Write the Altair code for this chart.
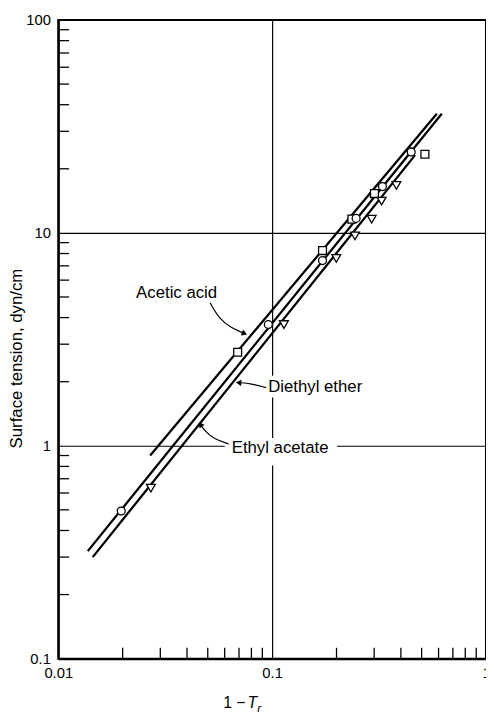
import altair as alt
import pandas as pd

# ---- data (1 - Tr, surface tension dyn/cm) ----
acetic_x = [0.069, 0.172, 0.236, 0.301, 0.518]
acetic_y = [2.75, 8.26, 11.6, 15.3, 23.4]
ethylac_x = [0.0197, 0.096, 0.172, 0.247, 0.328, 0.447]
ethylac_y = [0.494, 3.71, 7.41, 11.7, 16.5, 24.0]
ether_x = [0.0271, 0.1135, 0.1995, 0.244, 0.292, 0.325, 0.381]
ether_y = [0.632, 3.71, 7.59, 9.68, 11.6, 14.1, 16.7]

line_series = ["Acetic acid", "Acetic acid", "Ethyl acetate", "Ethyl acetate",
               "Diethyl ether", "Diethyl ether"]
line_x = [0.0269, 0.589, 0.01374, 0.621, 0.01449, 0.466]
line_y = [0.90, 36.3, 0.320, 36.3, 0.300, 23.2]

x_major = [0.01, 0.1, 1]
y_major = [0.1, 1, 10, 100]
x_minor = [0.02, 0.03, 0.04, 0.05, 0.06, 0.07, 0.08, 0.09,
           0.2, 0.3, 0.4, 0.5, 0.6, 0.7, 0.8, 0.9]
y_minor = [0.2, 0.3, 0.4, 0.5, 0.6, 0.7, 0.8, 0.9,
           2, 3, 4, 5, 6, 7, 8, 9,
           20, 30, 40, 50, 60, 70, 80, 90]

label_texts = ["Acetic acid", "Diethyl ether", "Ethyl acetate"]

# annotation arrows (data coordinates)
arrow_id = ["a", "a", "a", "a", "b", "b", "b", "c", "c", "c", "c"]
arrow_k = [0, 1, 2, 3, 0, 1, 2, 0, 1, 2, 3]
arrow_x = [0.0513, 0.0564, 0.0647, 0.0743, 0.0938, 0.0800, 0.0697,
           0.0627, 0.0534, 0.0486, 0.0462]
arrow_y = [4.69, 3.96, 3.56, 3.37, 1.875, 1.96, 1.98,
           1.02, 1.077, 1.17, 1.26]
head_x = [0.0743, 0.0697, 0.0462]
head_y = [3.37, 1.98, 1.26]
head_angle = [21, 184, 234]

FONT = "Liberation Sans"
W, H = 434, 648

xs = alt.Scale(type="log", domain=[0.01, 1], nice=False)
ys = alt.Scale(type="log", domain=[0.1, 100], nice=False)

x_axis = alt.Axis(values=x_major, format="~g", title=None, grid=True,
                  gridColor="black", gridWidth=1.2, gridOpacity=1,
                  ticks=False, domain=True, domainColor="black", domainWidth=2,
                  labelFont=FONT, labelFontSize=15, labelColor="black",
                  labelPadding=7, labelFlush=False, labelOverlap=False,
                  labelBound=False, zindex=0)
y_axis = alt.Axis(values=y_major, format="~g", title="Surface tension, dyn/cm",
                  grid=True, gridColor="black", gridWidth=1.2, gridOpacity=1,
                  ticks=False, domain=True, domainColor="black", domainWidth=2,
                  labelFont=FONT, labelFontSize=15, labelColor="black",
                  labelPadding=8, labelFlush=False, labelOverlap=False,
                  labelBound=False,
                  titleFont=FONT, titleFontSize=17, titleFontWeight="normal",
                  titleColor="black", titleAngle=270, titleX=-42, titleY=343,
                  titleAlign="center", titleBaseline="middle", zindex=0)

x_enc = alt.X("x:Q", scale=xs, axis=x_axis)
y_enc = alt.Y("y:Q", scale=ys, axis=y_axis)

one = pd.DataFrame({"d": [0]})

# minor ticks (inside)
xmin_df = pd.DataFrame({"x": x_minor})
ymin_df = pd.DataFrame({"y": y_minor})
xticks = alt.Chart(xmin_df).mark_rule(color="black", strokeWidth=1.3).encode(
    x=x_enc, y=alt.value(H), y2=alt.value(H - 11))
yticks = alt.Chart(ymin_df).mark_rule(color="black", strokeWidth=1.3).encode(
    y=y_enc, x=alt.value(0), x2=alt.value(11))

# white backgrounds behind labels (interrupt grid lines)
bg1 = alt.Chart(one).mark_rect(fill="white").encode(
    x=alt.value(209), x2=alt.value(310), y=alt.value(361), y2=alt.value(383))
bg2 = alt.Chart(one).mark_rect(fill="white").encode(
    x=alt.value(169), x2=alt.value(283), y=alt.value(424), y2=alt.value(452))

lines_df = pd.DataFrame({"series": line_series, "x": line_x, "y": line_y})
lines = alt.Chart(lines_df).mark_line(color="black", strokeWidth=2.3).encode(
    x=x_enc, y=y_enc, detail="series:N")

arrows_df = pd.DataFrame({"id": arrow_id, "k": arrow_k, "x": arrow_x, "y": arrow_y})
arrows = alt.Chart(arrows_df).mark_line(color="black", strokeWidth=1.2,
                                        interpolate="basis").encode(
    x=x_enc, y=y_enc, detail="id:N", order="k:Q")
heads_df = pd.DataFrame({"x": head_x, "y": head_y, "ang": head_angle})
heads = alt.Chart(heads_df).mark_point(shape="triangle-right", filled=True,
                                       color="black", size=40, opacity=1).encode(
    x=x_enc, y=y_enc, angle=alt.Angle("ang:Q", scale=None))

pt_style = dict(filled=True, fill="white", stroke="black", strokeWidth=1.3, opacity=1)
sq = alt.Chart(pd.DataFrame({"x": acetic_x, "y": acetic_y})).mark_point(
    shape="square", size=64, **pt_style).encode(x=x_enc, y=y_enc)
ci = alt.Chart(pd.DataFrame({"x": ethylac_x, "y": ethylac_y})).mark_point(
    shape="circle", size=64, **pt_style).encode(x=x_enc, y=y_enc)
tr = alt.Chart(pd.DataFrame({"x": ether_x, "y": ether_y})).mark_point(
    shape="triangle-down", size=80, **pt_style).encode(x=x_enc, y=y_enc)

def label(text, px, py, size=17, align="left", baseline="middle", style="normal"):
    return alt.Chart(one).mark_text(font=FONT, fontSize=size, align=align,
                                    baseline=baseline, fontStyle=style,
                                    color="black").encode(
        x=alt.value(px), y=alt.value(py), text=alt.value(text))

t1 = label(label_texts[0], 79, 277)
t2 = label(label_texts[1], 213, 372)
t3 = label(label_texts[2], 176, 434)
xt1 = label("1 \u2212", 190, 698, size=16, align="right", baseline="alphabetic")
xt2 = label("T", 192, 698, size=16, align="left", baseline="alphabetic", style="italic")
xt3 = label("r", 202, 702, size=12, align="left", baseline="alphabetic", style="italic")

chart = alt.layer(
    xticks, yticks, lines, bg1, bg2, arrows, heads, sq, ci, tr,
    t1, t2, t3, xt1, xt2, xt3
).properties(
    width=W, height=H,
    autosize=alt.AutoSizeParams(type="none"),
    padding={"left": 51, "top": 7, "right": 0, "bottom": 53},
    background="white",
).configure_view(stroke="black", strokeWidth=2)

chart.save("out.html", embed_options={"renderer": "svg", "actions": False})
